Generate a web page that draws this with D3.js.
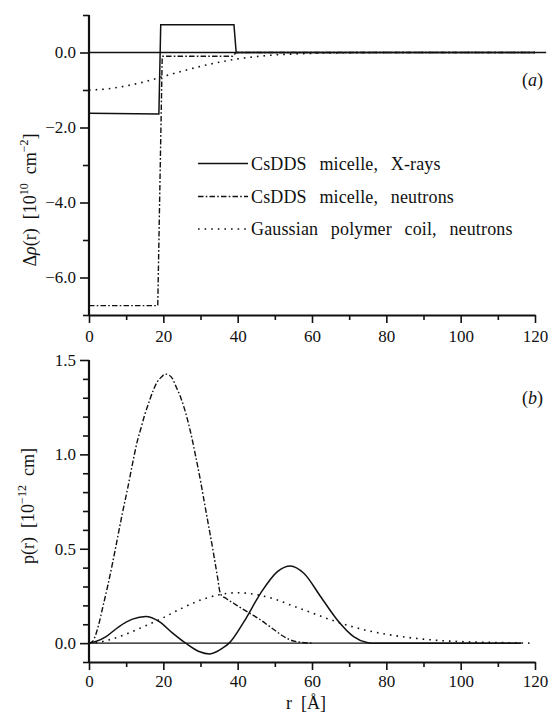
<!DOCTYPE html>
<html>
<head>
<meta charset="utf-8">
<script src="https://cdn.jsdelivr.net/npm/d3@7"></script>
<style>
  html, body { margin: 0; padding: 0; background: #fff; }
  svg { display: block; }
  text { font-family: "Liberation Serif", "Times New Roman", serif; fill: #111; }
  .tick text { font-family: "Liberation Serif", serif; font-size: 17px; fill: #111; }
</style>
</head>
<body>
<svg id="chart" width="551" height="716"></svg>
<script>
// ---------- Data ----------
// x-axis ticks (r in Å)
const xMajorTicks = [0, 20, 40, 60, 80, 100, 120];
const xMinorTicks = [10, 30, 50, 70, 90, 110];

// Panel (a): contrast profiles Δρ(r) [10^10 cm^-2]
const yaMajorTicks = [0, -2, -4, -6];
const yaMinorTicks = [1, -1, -3, -5, -7];
const yaTickLabels = ["0.0", "\u22122.0", "\u22124.0", "\u22126.0"];

const rA_xray  = [0, 18.8, 19.3, 39.0, 39.6, 120];
const dA_xray  = [-1.62, -1.64, 0.74, 0.74, 0, 0];

const rA_neut  = [0, 18.5, 19.7, 38.6, 39.6, 120];
const dA_neut  = [-6.75, -6.75, -0.10, -0.10, 0, 0];

const rA_gauss = [0, 5, 10, 15, 20, 25, 30, 35, 40, 45, 50, 55, 60, 70, 80, 90, 100, 110, 120];
const dA_gauss = [-1.0, -0.97, -0.89, -0.78, -0.64, -0.50, -0.37, -0.26, -0.17, -0.11, -0.065, -0.04, -0.022, -0.006, -0.001, 0, 0, 0, 0];

const rA_zero  = [0, 123];
const dA_zero  = [0, 0];

// Panel (b): pair distance distributions p(r) [10^-12 cm]
const ybMajorTicks = [0, 0.5, 1.0, 1.5];
const ybMinorTicks = [-0.1, 0.1, 0.2, 0.3, 0.4, 0.6, 0.7, 0.8, 0.9, 1.1, 1.2, 1.3, 1.4];
const ybTickLabels = ["0.0", "0.5", "1.0", "1.5"];

const rB_neut = [0, 1, 2.5, 3.7, 5, 6.4, 7.7, 9, 10.4, 11.7, 13, 14, 15, 16.2, 17.3, 18.4, 19.5, 20.5, 21.5, 22.5, 23.4, 24.7, 26, 27.3, 28.7, 30, 31, 32.1, 33.2, 34.5, 35.4, 37, 39, 41, 43.5, 46, 48, 50, 52.4, 54, 56, 58, 60];
const pB_neut = [0, 0.01, 0.09, 0.19, 0.30, 0.43, 0.56, 0.69, 0.82, 0.95, 1.07, 1.14, 1.21, 1.28, 1.34, 1.385, 1.41, 1.425, 1.42, 1.40, 1.36, 1.30, 1.22, 1.12, 0.99, 0.86, 0.75, 0.63, 0.51, 0.36, 0.26, 0.235, 0.21, 0.185, 0.155, 0.125, 0.097, 0.068, 0.035, 0.018, 0.007, 0.002, 0];

const rB_xray = [0, 2, 4.6, 8.1, 11.7, 15.3, 18.9, 22.5, 26, 29.6, 32.5, 35.9, 37.7, 41.7, 46.2, 50.7, 54.2, 57.8, 62.3, 66.8, 71.2, 74.8, 76, 116.3];
const pB_xray = [0, 0.01, 0.035, 0.088, 0.127, 0.141, 0.114, 0.053, 0.0, -0.044, -0.057, -0.027, 0, 0.114, 0.265, 0.379, 0.409, 0.37, 0.247, 0.123, 0.035, 0.003, 0, 0];

const rB_gauss = [0, 2, 5, 10, 15, 20, 25, 30, 35, 40, 45, 50, 55, 60, 65, 70, 75, 80, 85, 90, 95, 100, 105, 110, 115, 118.5];
const pB_gauss = [0, 0.002, 0.015, 0.048, 0.09, 0.135, 0.185, 0.228, 0.256, 0.267, 0.257, 0.233, 0.196, 0.16, 0.124, 0.092, 0.066, 0.047, 0.032, 0.021, 0.013, 0.008, 0.005, 0.003, 0.001, 0];

const legendLabels = ["CsDDS micelle, X-rays", "CsDDS micelle, neutrons", "Gaussian polymer coil, neutrons"];

// ---------- Styles ----------
const DASHDOT = "5.5,2.2,1.6,2.2";
const DOTTED = "1.6,5";
const styles = [
  { dash: null, width: 1.5 },
  { dash: DASHDOT, width: 1.4 },
  { dash: DOTTED, width: 1.6 }
];

const svg = d3.select("#chart");

const x = d3.scaleLinear().domain([0, 120]).range([89, 535]);
const ya = d3.scaleLinear().domain([-7, 1]).range([315, 15]);
const yb = d3.scaleLinear().domain([-0.1, 1.5]).range([662, 360]);

function zip(xs, ys) { return xs.map((v, i) => [v, ys[i]]); }

function drawAxes(y, yMajor, yLabels, yMinor, yTop, yBottom, xPad) {
  const gy = svg.append("g").attr("transform", `translate(${x(0)},0)`);
  gy.call(d3.axisLeft(y).tickValues(yMajor).tickSize(9).tickSizeOuter(0).tickPadding(4)
      .tickFormat((d, i) => yLabels[i]));
  gy.select(".domain").remove();
  gy.selectAll(".tick line").attr("stroke", "#111").attr("stroke-width", 1.6);
  const gym = svg.append("g").attr("transform", `translate(${x(0)},0)`);
  gym.call(d3.axisLeft(y).tickValues(yMinor).tickSize(6).tickSizeOuter(0).tickFormat(""));
  gym.select(".domain").remove();
  gym.selectAll(".tick line").attr("stroke", "#111").attr("stroke-width", 1.6);
  svg.append("line").attr("x1", x(0)).attr("x2", x(0))
    .attr("y1", y(yTop)).attr("y2", y(yBottom))
    .attr("stroke", "#111").attr("stroke-width", 2.2);

  const gx = svg.append("g").attr("transform", `translate(0,${y(yBottom)})`);
  gx.call(d3.axisBottom(x).tickValues(xMajorTicks).tickSize(8).tickSizeOuter(0).tickPadding(xPad));
  gx.select(".domain").attr("stroke", "#111").attr("stroke-width", 2.2);
  gx.selectAll(".tick line").attr("stroke", "#111").attr("stroke-width", 1.6);
  const gxm = svg.append("g").attr("transform", `translate(0,${y(yBottom)})`);
  gxm.call(d3.axisBottom(x).tickValues(xMinorTicks).tickSize(5).tickSizeOuter(0).tickFormat(""));
  gxm.select(".domain").remove();
  gxm.selectAll(".tick line").attr("stroke", "#111").attr("stroke-width", 1.6);
}

function drawCurve(y, xs, ys, style, curve) {
  const line = d3.line().x(d => x(d[0])).y(d => y(d[1])).curve(curve || d3.curveLinear);
  const p = svg.append("path").datum(zip(xs, ys))
    .attr("d", line).attr("fill", "none")
    .attr("stroke", "#111").attr("stroke-width", style.width);
  if (style.dash) p.attr("stroke-dasharray", style.dash);
  return p;
}

// ---------- Panel (a) ----------
drawAxes(ya, yaMajorTicks, yaTickLabels, yaMinorTicks, 1, -7, 7);
drawCurve(ya, rA_zero, dA_zero, { dash: null, width: 1.4 });
drawCurve(ya, rA_gauss, dA_gauss, styles[2], d3.curveMonotoneX);
drawCurve(ya, rA_neut, dA_neut, styles[1]);
drawCurve(ya, rA_xray, dA_xray, styles[0]);

// legend
const legY = [163.5, 196.5, 229];
legendLabels.forEach((lab, i) => {
  const l = svg.append("line").attr("x1", 198).attr("x2", 248)
    .attr("y1", legY[i]).attr("y2", legY[i])
    .attr("stroke", "#111").attr("stroke-width", styles[i].width);
  if (styles[i].dash) l.attr("stroke-dasharray", styles[i].dash);
  svg.append("text").attr("x", 251).attr("y", legY[i] + 6)
    .attr("font-size", 18).style("word-spacing", "8px").style("letter-spacing", "0.15px")
    .text(lab);
});

const ta = svg.append("text").attr("x", 522).attr("y", 86).attr("font-size", 18);
ta.append("tspan").text("(");
ta.append("tspan").attr("font-style", "italic").text("a");
ta.append("tspan").text(")");

const yta = svg.append("text").attr("transform", "translate(36,200) rotate(-90)")
  .attr("text-anchor", "middle").attr("font-size", 18).style("white-space", "pre");
yta.append("tspan").text("\u0394");
yta.append("tspan").attr("font-style", "italic").text("\u03C1");
yta.append("tspan").text("(r)  [10");
yta.append("tspan").attr("dy", -8).attr("font-size", 12).text("10");
yta.append("tspan").attr("dy", 8).text("  cm");
yta.append("tspan").attr("dy", -8).attr("font-size", 12).text("\u22122");
yta.append("tspan").attr("dy", 8).text("]");

// ---------- Panel (b) ----------
drawAxes(yb, ybMajorTicks, ybTickLabels, ybMinorTicks, 1.5, -0.1, 5);
drawCurve(yb, [0, 116.3], [0, 0], { dash: null, width: 1.4 });
drawCurve(yb, rB_gauss, pB_gauss, styles[2], d3.curveMonotoneX);
drawCurve(yb, rB_neut, pB_neut, styles[1], d3.curveMonotoneX);
drawCurve(yb, rB_xray, pB_xray, styles[0], d3.curveMonotoneX);

const tb = svg.append("text").attr("x", 522).attr("y", 404).attr("font-size", 18);
tb.append("tspan").text("(");
tb.append("tspan").attr("font-style", "italic").text("b");
tb.append("tspan").text(")");

const ytb = svg.append("text").attr("transform", "translate(34,506) rotate(-90)")
  .attr("text-anchor", "middle").attr("font-size", 18).style("white-space", "pre");
ytb.append("tspan").text("p(r)  [10");
ytb.append("tspan").attr("dy", -8).attr("font-size", 12).text("\u221212");
ytb.append("tspan").attr("dy", 8).text("  cm]");

svg.append("text").attr("x", 306).attr("y", 709).attr("text-anchor", "middle")
  .attr("font-size", 18).style("white-space", "pre").text("r  [\u00C5]");
</script>
</body>
</html>
